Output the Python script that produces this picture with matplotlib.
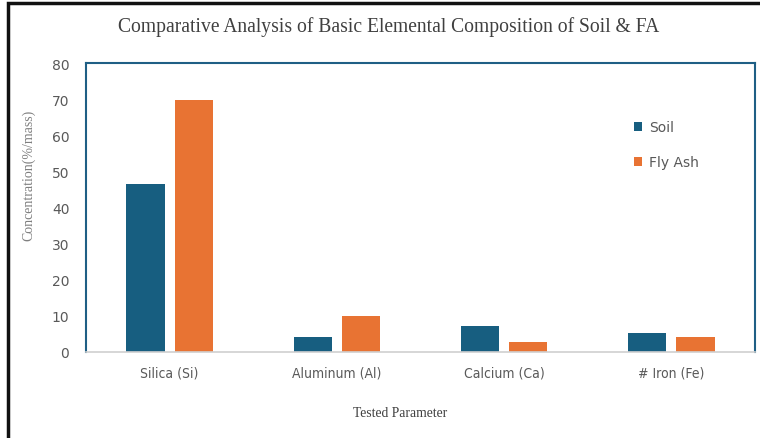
import numpy as np
import matplotlib.pyplot as plt
from matplotlib.patches import Rectangle

categories = ["Silica (Si)", "Aluminum (Al)", "Calcium (Ca)", "# Iron (Fe)"]
soil = [46.5, 4.2, 7.3, 5.3]
fly_ash = [69.8, 10.0, 2.7, 4.1]
series_names = ["Soil", "Fly Ash"]
yticks = [0, 10, 20, 30, 40, 50, 60, 70, 80]

soil_color = "#175E80"
ash_color = "#E87333"
text_gray = "#595959"

fig = plt.figure(figsize=(7.6, 4.39), dpi=100)
ax = fig.add_axes([86 / 760, 1 - 353 / 439, (755 - 86) / 760, (353 - 64) / 439])

x = np.arange(len(categories))
w = 0.228
ax.bar(x - 0.144, soil, w, color=soil_color, label=series_names[0])
ax.bar(x + 0.144, fly_ash, w, color=ash_color, label=series_names[1])

ax.set_xlim(-0.5, 3.5)
ax.set_ylim(0, 80)
ax.set_yticks(yticks)
ax.set_xticks(x)
ax.set_xticklabels(categories, fontsize=10.5, color=text_gray,
                   family="DejaVu Sans", fontstretch="condensed")
ax.tick_params(axis="both", length=0, colors=text_gray, labelsize=10)
ax.tick_params(axis="x", pad=10)
ax.tick_params(axis="y", pad=12)

for side in ["left", "top", "right"]:
    ax.spines[side].set_color("#1F5F85")
    ax.spines[side].set_linewidth(1.5)
ax.spines["bottom"].set_color("#D0D0D0")
ax.spines["bottom"].set_linewidth(1.2)

# title and axis titles in a serif face
fig.text(389 / 760, 1 - 27 / 439,
         "Comparative Analysis of Basic Elemental Composition of Soil & FA",
         ha="center", va="center", fontsize=14.1, color="#404040",
         family="Liberation Serif")
fig.text(29 / 760, 1 - 175 / 439, "Concentration(%/mass)", rotation=90,
         ha="center", va="center", fontsize=10, color="#7F7F7F",
         family="Liberation Serif")
fig.text(400 / 760, 1 - 414 / 439, "Tested Parameter",
         ha="center", va="center", fontsize=9.8, color="#404040",
         family="Liberation Serif")

leg = ax.legend(loc="upper left", bbox_to_anchor=(0.80, 0.845), frameon=False,
                handlelength=0.6, handleheight=0.6, handletextpad=0.5,
                labelspacing=1.5, fontsize=10)
for t in leg.get_texts():
    t.set_color(text_gray)

# outer frame, cut off on the right and bottom
fig.patches.append(Rectangle((8 / 760, -0.1), 1.2, 1.1 - 4 / 439,
                             transform=fig.transFigure, fill=False,
                             edgecolor="#111111", linewidth=2.5))

fig.savefig("out.png", dpi=100)
